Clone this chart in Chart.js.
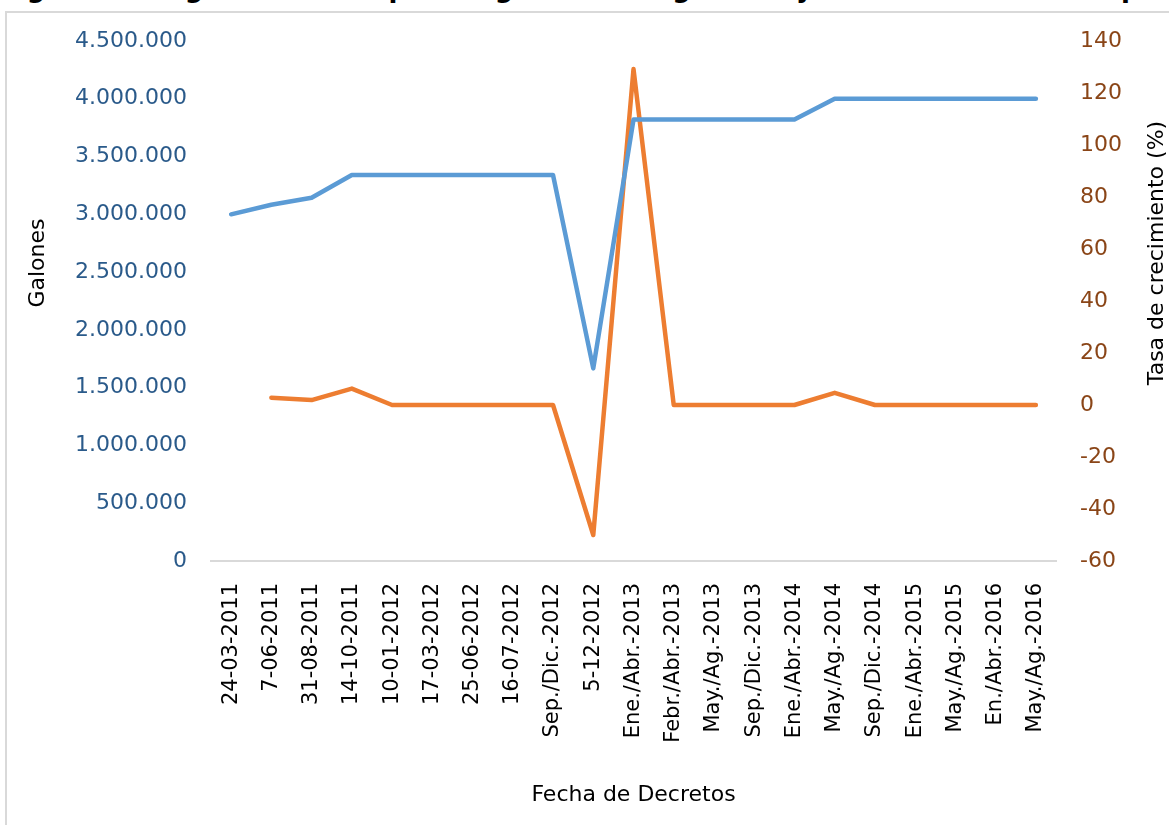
<!DOCTYPE html>
<html>
<head>
<meta charset="utf-8">
<script src="https://cdn.jsdelivr.net/npm/chart.js@4.4.1/dist/chart.umd.min.js"></script>
<style>
  html, body { margin: 0; padding: 0; background: #fff; overflow: hidden; }
  #title {
    position: absolute; left: 0; top: -27px; white-space: nowrap;
    font: bold 26px "DejaVu Sans", sans-serif; line-height: 30px; color: #000;
  }
  #frame {
    position: absolute; left: 5px; top: 11px; width: 1300px; height: 900px;
    border: 2px solid #d9d9d9; box-sizing: border-box;
  }
  #wrap { position: absolute; left: 0; top: 0; width: 1175px; height: 825px; }
</style>
</head>
<body>
<div id="title">Figura 5. Asignación de cupos de gasolina en galones y tasa de crecimiento por período, según decretos</div>
<div id="frame"></div>
<div id="wrap"><canvas id="chart"></canvas></div>
<script>
// Data
const categories = [
  '24-03-2011', '7-06-2011', '31-08-2011', '14-10-2011', '10-01-2012',
  '17-03-2012', '25-06-2012', '16-07-2012', 'Sep./Dic.-2012', '5-12-2012',
  'Ene./Abr.-2013', 'Febr./Abr.-2013', 'May./Ag.-2013', 'Sep./Dic.-2013',
  'Ene./Abr.-2014', 'May./Ag.-2014', 'Sep./Dic.-2014', 'Ene./Abr.-2015',
  'May./Ag.-2015', 'En./Abr.-2016', 'May./Ag.-2016'
];

const galones = [
  3000000, 3083000, 3143000, 3340000, 3340000,
  3340000, 3340000, 3340000, 3340000, 1667000,
  3820000, 3820000, 3820000, 3820000,
  3820000, 4000000, 4000000, 4000000,
  4000000, 4000000, 4000000
];

const tasaCrecimiento = [
  null, 2.8, 1.9, 6.3, 0,
  0, 0, 0, 0, -50,
  129.2, 0, 0, 0,
  0, 4.7, 0, 0,
  0, 0, 0
];

const galonesTicks = { min: 0, max: 4500000, step: 500000 };
const tasaTicks = { min: -60, max: 140, step: 20 };

const FONT = '"DejaVu Sans", sans-serif';
const TITLE_LEFT = 'Galones';
const TITLE_RIGHT = 'Tasa de crecimiento (%)';

function formatMiles(v) {
  return String(v).replace(/\B(?=(\d{3})+(?!\d))/g, '.');
}

// Both vertical axis titles read bottom-to-top, like the original
const axisTitles = {
  id: 'axisTitles',
  afterDraw(chart) {
    const ctx = chart.ctx;
    ctx.save();
    ctx.fillStyle = '#000';
    ctx.font = '22px ' + FONT;
    ctx.textAlign = 'center';
    ctx.textBaseline = 'middle';
    [[TITLE_LEFT, 38, 263], [TITLE_RIGHT, 1157, 253]].forEach(([t, x, y]) => {
      ctx.save();
      ctx.translate(x, y);
      ctx.rotate(-Math.PI / 2);
      ctx.fillText(t, 0, 0);
      ctx.restore();
    });
    ctx.restore();
  }
};

new Chart(document.getElementById('chart'), {
  type: 'line',
  data: {
    labels: categories,
    datasets: [
      {
        label: 'Galones',
        data: galones,
        yAxisID: 'y',
        borderColor: '#5b9bd5',
        borderWidth: 4.5,
        borderCapStyle: 'round',
        borderJoinStyle: 'round',
        pointRadius: 0,
        tension: 0,
        fill: false
      },
      {
        label: 'Tasa de crecimiento (%)',
        data: tasaCrecimiento,
        yAxisID: 'y1',
        borderColor: '#ed7d31',
        borderWidth: 4.5,
        borderCapStyle: 'round',
        borderJoinStyle: 'round',
        pointRadius: 0,
        tension: 0,
        fill: false
      }
    ]
  },
  plugins: [axisTitles],
  options: {
    responsive: true,
    maintainAspectRatio: false,
    animation: false,
    devicePixelRatio: 1,
    layout: { padding: { top: 41, left: 0, right: 0, bottom: 0 } },
    plugins: {
      legend: { display: false },
      tooltip: { enabled: false }
    },
    scales: {
      x: {
        offset: true,
        grid: { display: false, drawTicks: false },
        border: { display: true, color: '#d9d9d9', width: 2 },
        ticks: {
          autoSkip: false,
          minRotation: 90,
          maxRotation: 90,
          padding: 22,
          color: '#000',
          font: { family: FONT, size: 21 }
        },
        title: {
          display: true,
          text: 'Fecha de Decretos',
          color: '#000',
          padding: { top: 19, bottom: 17 },
          font: { family: FONT, size: 22 }
        },
        afterFit(scale) { scale.height = 264; }
      },
      y: {
        position: 'left',
        min: galonesTicks.min,
        max: galonesTicks.max,
        grid: { display: false, drawTicks: false },
        border: { display: false },
        ticks: {
          stepSize: galonesTicks.step,
          padding: 24,
          color: '#2a5a8a',
          font: { family: FONT, size: 22 },
          callback: (v) => formatMiles(v)
        },
        afterFit(scale) { scale.width = 211; }
      },
      y1: {
        position: 'right',
        min: tasaTicks.min,
        max: tasaTicks.max,
        grid: { display: false, drawTicks: false },
        border: { display: false },
        ticks: {
          stepSize: tasaTicks.step,
          padding: 24,
          color: '#8a4517',
          font: { family: FONT, size: 22 }
        },
        afterFit(scale) { scale.width = 119; }
      }
    }
  }
});
</script>
</body>
</html>
